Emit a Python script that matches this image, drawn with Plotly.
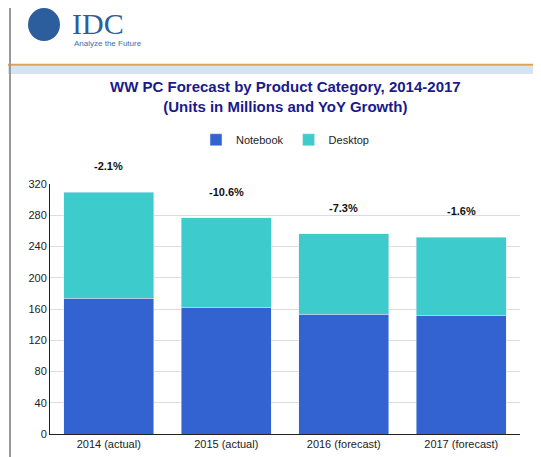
import plotly.graph_objs as go

categories = ["2014 (actual)", "2015 (actual)", "2016 (forecast)", "2017 (forecast)"]
notebook = [174, 162.5, 153, 152]
desktop = [135.5, 114, 103.5, 100]
growth = ["-2.1%", "-10.6%", "-7.3%", "-1.6%"]

totals = [n + d for n, d in zip(notebook, desktop)]


def py(px):
	# convert a pixel row from the top of the picture to paper y
	return 1 + (183 - px) / 243


def px_x(px):
	return (px - 42) / 470


data = [
	go.Bar(x=categories, y=notebook, name="Notebook", marker=dict(color="#3263d1")),
	go.Bar(x=categories, y=desktop, name="Desktop", marker=dict(color="#3ecbcb")),
]

annotations = [
	dict(x=c, y=t, text="<b>" + g + "</b>", showarrow=False, yshift=26,
		font=dict(size=11, color="#111"))
	for c, t, g in zip(categories, totals, growth)
]
annotations += [
	dict(xref="paper", yref="paper", x=0.5, y=py(78),
		xanchor="center", yanchor="top", showarrow=False,
		text="<b>WW PC Forecast by Product Category, 2014-2017<br>(Units in Millions and YoY Growth)</b>",
		font=dict(family="Arial", size=15, color="#1a1a8c")),
	dict(xref="paper", yref="paper", x=px_x(62), y=py(27),
		xanchor="left", yanchor="middle", showarrow=False, text="IDC",
		font=dict(family="Liberation Serif", size=30, color="#2c5d9c")),
	dict(xref="paper", yref="paper", x=px_x(64), y=py(46),
		xanchor="left", yanchor="middle", showarrow=False, text="Analyze the Future",
		font=dict(family="Arial", size=8, color="#3a6fb0")),
]

shapes = [
	dict(type="rect", xref="paper", yref="paper", x0=px_x(0), x1=px_x(541),
		y0=py(76), y1=py(68), fillcolor="#d6e4f2", line=dict(width=0)),
	dict(type="line", xref="paper", yref="paper", x0=px_x(0), x1=px_x(541),
		y0=py(67), y1=py(67), line=dict(color="#e0a050", width=2)),
	dict(type="circle", xref="paper", yref="paper", x0=px_x(20), x1=px_x(52),
		y0=py(44), y1=py(12), fillcolor="#2c5d9c", line=dict(width=0)),
	dict(type="line", xref="paper", yref="paper", x0=px_x(2), x1=px_x(2),
		y0=py(457), y1=py(0), line=dict(color="#999", width=2)),
	dict(type="line", xref="paper", yref="paper", x0=px_x(0), x1=px_x(541),
		y0=py(452), y1=py(452), line=dict(color="#999", width=2)),
]

layout = go.Layout(
	barmode="stack",
	bargap=0.23,
	width=541, height=457,
	margin=dict(l=42, r=29, t=176, b=31),
	paper_bgcolor="white", plot_bgcolor="white",
	font=dict(family="Arial", size=11, color="#222"),
	legend=dict(orientation="h", x=0.5, xanchor="center", y=py(140), yanchor="middle",
		font=dict(size=11), traceorder="normal"),
	xaxis=dict(showline=True, linecolor="#222", ticks="", tickfont=dict(size=11)),
	yaxis=dict(range=[0, 320], dtick=40, showgrid=True, gridcolor="#ddd",
		showline=True, linecolor="#222", zeroline=False),
	annotations=annotations,
	shapes=shapes,
)

fig = go.Figure(data=data, layout=layout)
fig.write_html("out.html")
